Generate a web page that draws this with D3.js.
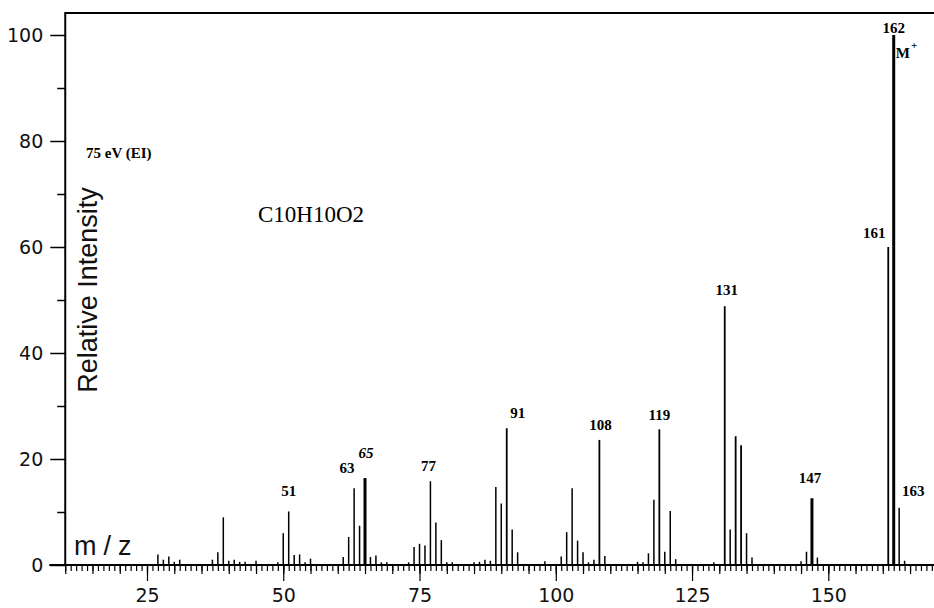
<!DOCTYPE html>
<html><head><meta charset="utf-8">
<script src="https://cdn.jsdelivr.net/npm/d3@7"></script>
<style>
body{margin:0;background:#fff}
svg{display:block}
</style>
</head><body>
<svg id="chart" width="934" height="608"></svg>
<script>
// ---- data ----
const mzValues = [27,28,29,30,31,37,38,39,40,41,42,43,45,49,50,51,52,53,54,55,
  61,62,63,64,65,66,67,68,69,73,74,75,76,77,78,79,80,81,85,86,87,88,89,90,91,92,93,98,
  101,102,103,104,105,106,107,108,109,115,116,117,118,119,120,121,122,129,
  131,132,133,134,135,136,145,146,147,148,161,162,163,164];
const intensities = [2.0,1.0,1.6,0.6,1.0,1.0,2.4,9.0,0.8,1.0,0.6,0.6,0.8,0.5,6.0,10.1,1.9,2.0,0.5,1.2,
  1.5,5.3,14.5,7.4,16.4,1.5,1.8,0.5,0.5,0.5,3.4,4.0,3.7,15.8,8.0,4.7,0.5,0.5,0.5,0.6,1.0,0.8,14.7,11.6,25.8,6.7,2.4,0.7,
  1.6,6.2,14.5,4.6,2.4,0.5,1.0,23.6,1.7,0.6,0.5,2.2,12.3,25.6,2.5,10.2,1.1,0.5,
  48.8,6.7,24.3,22.6,6.0,1.4,0.7,2.5,12.6,1.4,60,100,10.8,0.8];
const labeledPeaks = [51,63,65,77,91,108,119,131,147,161,162,163];
const yTickValues = [0,20,40,60,80,100];
const yMinorTickValues = [10,30,50,70,90];
const xTickValues = [25,50,75,100,125,150];
const xLabel = "m/z";
const yLabel = "Relative Intensity";
const energyNote = "75 eV (EI)";
const formulaText = "C10H10O2";
const molecularIon = "M";

// ---- layout / style (not data) ----
const thickPeaks = new Set([65,147,162]);
const labelOffset = { // dx, dy (px) relative to peak top
  51:[0,-15], 63:[-7,-15], 65:[1,-20], 77:[-2,-10], 91:[11,-10], 108:[1,-10],
  119:[0,-9], 131:[2,-11], 147:[-2,-15], 161:[-14,-9], 162:[0,-2], 163:[14,-12]
};

const W = 934, H = 608;
const svg = d3.select("#chart");
const x = d3.scaleLinear().domain([25,150]).range([147,828.3]);
const y = d3.scaleLinear().domain([0,100]).range([565,35]);
const xMin = 10, xMax = x.invert(W);
const yTop = y.invert(13);
const sans = "'DejaVu Sans', sans-serif";

// frame: top border
svg.append("line").attr("x1", x(xMin)).attr("x2", W).attr("y1", y(yTop)).attr("y2", y(yTop))
  .attr("stroke","#000").attr("stroke-width",2);

// x axis ticks
const unitTicks = d3.range(xMin, Math.floor(xMax)+1);
const xAxisUnit = d3.axisBottom(x).tickValues(unitTicks).tickSize(6).tickFormat("");
const xAxisFive = d3.axisBottom(x).tickValues(unitTicks.filter(d=>d%5===0)).tickSize(9).tickFormat("");
const xAxisMajor = d3.axisBottom(x).tickValues(xTickValues).tickSize(16).tickPadding(8).tickFormat(d3.format("d"));
[xAxisUnit, xAxisFive, xAxisMajor].forEach(ax=>{
  const g = svg.append("g").attr("transform",`translate(0,${y(0)})`).call(ax);
  g.select(".domain").remove();
  g.selectAll(".tick line").attr("stroke","#000").attr("stroke-width",1.2);
  g.selectAll("text").attr("font-family",sans).attr("font-size",19).attr("fill","#111");
});

// y axis
const yAxisMajor = d3.axisLeft(y).tickValues(yTickValues).tickSize(15).tickPadding(7).tickFormat(d3.format("d"));
const yAxisMinor = d3.axisLeft(y).tickValues(yMinorTickValues).tickSize(8).tickFormat("");
[yAxisMajor, yAxisMinor].forEach(ax=>{
  const g = svg.append("g").attr("transform",`translate(${x(xMin)},0)`).call(ax);
  g.select(".domain").remove();
  g.selectAll(".tick line").attr("stroke","#000").attr("stroke-width",1.5);
  g.selectAll("text").attr("font-family",sans).attr("font-size",19).attr("fill","#111");
});

// axis lines
svg.append("line").attr("x1", x(xMin)-16).attr("x2", W).attr("y1", y(0)).attr("y2", y(0))
  .attr("stroke","#000").attr("stroke-width",2);
svg.append("line").attr("x1", x(xMin)).attr("x2", x(xMin)).attr("y1", y(0)).attr("y2", y(yTop)-1)
  .attr("stroke","#000").attr("stroke-width",2);

// peaks
const peaks = mzValues.map((m,i)=>({mz:m, v:intensities[i]}));
svg.append("g").selectAll("line").data(peaks).join("line")
  .attr("x1", d=>x(d.mz)).attr("x2", d=>x(d.mz))
  .attr("y1", y(0)).attr("y2", d=>y(d.v))
  .attr("stroke","#000")
  .attr("stroke-width", d=>thickPeaks.has(d.mz)?3:(d.v>20?1.8:1.5));

// peak labels
const labelData = peaks.filter(d=>labeledPeaks.includes(d.mz));
svg.append("g").selectAll("text").data(labelData).join("text")
  .attr("x", d=>x(d.mz)+labelOffset[d.mz][0])
  .attr("y", d=>y(d.v)+labelOffset[d.mz][1])
  .attr("text-anchor","middle")
  .attr("font-family","'Liberation Serif', serif")
  .attr("font-weight","bold")
  .attr("font-style", d=>d.mz===65?"italic":"normal")
  .attr("font-size",15)
  .text(d=>d.mz);

// molecular ion marker
const basePeak = peaks.find(d=>d.mz===162);
const mi = svg.append("text")
  .attr("x", x(basePeak.mz)+2).attr("y", y(basePeak.v)+23)
  .attr("font-family","'Liberation Serif', serif").attr("font-weight","bold").attr("font-size",15);
mi.append("tspan").text(molecularIon);
mi.append("tspan").attr("dy",-9).attr("dx",1).attr("font-size",11).text("+");

// annotations
svg.append("text").attr("x",86).attr("y",158)
  .attr("font-family","'Liberation Serif', serif").attr("font-weight","bold").attr("font-size",15)
  .text(energyNote);
svg.append("text").attr("x",258).attr("y",222)
  .attr("font-family","'Liberation Serif', serif").attr("font-size",23)
  .text(formulaText);

// axis titles
svg.append("text").attr("transform","translate(97,290) rotate(-90)")
  .attr("text-anchor","middle")
  .attr("font-family","'Liberation Sans', sans-serif").attr("font-size",27).attr("fill","#111")
  .text(yLabel);
svg.append("text").attr("x",74).attr("y",555)
  .attr("font-family","'Liberation Sans', sans-serif").attr("font-size",27).attr("fill","#111")
  .attr("letter-spacing",7)
  .text(xLabel);
</script>
</body></html>
